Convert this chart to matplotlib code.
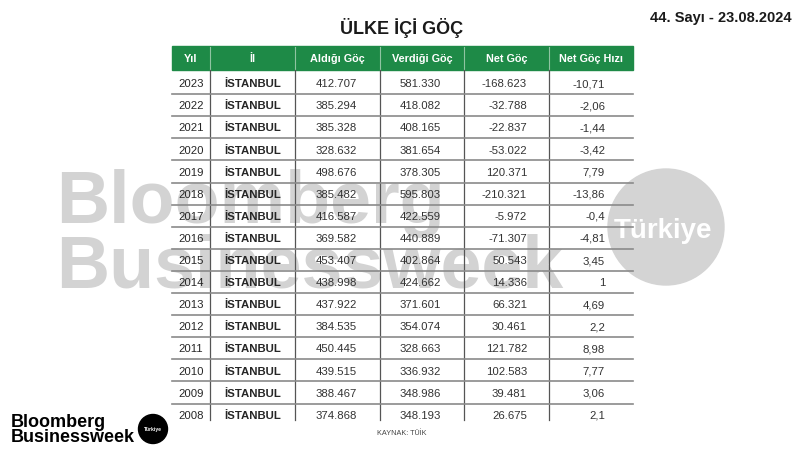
import matplotlib
matplotlib.use("Agg")
import matplotlib.pyplot as plt
from matplotlib.patches import Rectangle, Circle

plt.rcParams['font.family'] = ['Liberation Sans', 'DejaVu Sans']

title = "ÜLKE İÇİ GÖÇ"
issue = "44. Sayı - 23.08.2024"
source = "KAYNAK: TÜİK"
headers = ["Yıl", "İl", "Aldığı Göç", "Verdiği Göç", "Net Göç", "Net Göç Hızı"]
years = [2023, 2022, 2021, 2020, 2019, 2018, 2017, 2016, 2015, 2014, 2013, 2012, 2011, 2010, 2009, 2008]
city = ["İSTANBUL"] * 16
aldigi = ["412.707", "385.294", "385.328", "328.632", "498.676", "385.482", "416.587", "369.582",
          "453.407", "438.998", "437.922", "384.535", "450.445", "439.515", "388.467", "374.868"]
verdigi = ["581.330", "418.082", "408.165", "381.654", "378.305", "595.803", "422.559", "440.889",
           "402.864", "424.662", "371.601", "354.074", "328.663", "336.932", "348.986", "348.193"]
net = ["-168.623", "-32.788", "-22.837", "-53.022", "120.371", "-210.321", "-5.972", "-71.307",
       "50.543", "14.336", "66.321", "30.461", "121.782", "102.583", "39.481", "26.675"]
hiz = ["-10,71", "-2,06", "-1,44", "-3,42", "7,79", "-13,86", "-0,4", "-4,81",
       "3,45", "1", "4,69", "2,2", "8,98", "7,77", "3,06", "2,1"]

W, H = 800, 450
fig = plt.figure(figsize=(8, 4.5), dpi=100)
ax = fig.add_axes([0, 0, 1, 1])
ax.set_xlim(0, W)
ax.set_ylim(H, 0)
ax.axis('off')

# watermark
wm = '#d3d3d3'
ax.text(56, 223, "Bloomberg", fontsize=53, fontweight='bold', color=wm, ha='left', va='baseline', zorder=1)
ax.text(56, 288, "Businessweek", fontsize=53, fontweight='bold', color=wm, ha='left', va='baseline', zorder=1)
ax.add_patch(Circle((666, 227), 58, color='#d4d4d4', zorder=1))
ax.text(663, 238, "Türkiye", fontsize=20, fontweight='bold', color='white', ha='center', va='baseline', zorder=2)

# title & issue
ax.text(402, 34, title, fontsize=13, fontweight='bold', color='#1a1a1a', ha='center', va='baseline')
ax.text(792, 22, issue, fontsize=10.5, fontweight='bold', color='#1a1a1a', ha='right', va='baseline')

# table geometry
bounds = [172, 210, 295, 380, 464, 549, 633]
head_top, head_bot = 46, 70
row_top, row_h = 72, 22.1
green = '#1e8a47'
fs = 8.2
half_cap = 4.2

ax.add_patch(Rectangle((bounds[0], head_top), bounds[-1] - bounds[0], head_bot - head_top,
                       color=green, zorder=3))
for x in bounds[1:-1]:
    ax.plot([x, x], [head_top + 1, head_bot], color='#8fc4a2', lw=0.8, zorder=4)
for j, h in enumerate(headers):
    cx = (bounds[j] + bounds[j + 1]) / 2
    ax.text(cx, (head_top + head_bot) / 2 + 4, h, fontsize=7.8, fontweight='bold', color='white',
            ha='center', va='baseline', zorder=5)

n = len(years)
last_bottom = 420
for x in bounds[1:-1]:
    ax.plot([x, x], [head_bot, last_bottom], color='#555555', lw=0.9, zorder=4)
for i in range(n - 1):
    y = row_top + row_h * (i + 1)
    ax.plot([bounds[0], bounds[-1]], [y, y], color='#8a8a8a', lw=1.2, zorder=4)

right_cols = [(aldigi, 357), (verdigi, 441), (net, 527), (hiz, 605)]
for i in range(n):
    by = row_top + row_h * (i + 0.5) + half_cap
    ax.text((bounds[0] + bounds[1]) / 2, by, str(years[i]), fontsize=fs, color='#262626',
            ha='center', va='baseline', zorder=5)
    ax.text((bounds[1] + bounds[2]) / 2, by, city[i], fontsize=fs, fontweight='bold', color='#262626',
            ha='center', va='baseline', zorder=5)
    for vals, rx in right_cols:
        ax.text(rx, by, vals[i], fontsize=fs, color='#333333', ha='right', va='baseline', zorder=5)

ax.text(402, 435, source, fontsize=5.2, color='#444444', ha='center', va='baseline', zorder=5)

# logo
ax.text(11, 427, "Bloomberg", fontsize=13, fontweight='bold', color='black', ha='left', va='baseline')
ax.text(11, 442, "Businessweek", fontsize=13, fontweight='bold', color='black', ha='left', va='baseline')
ax.add_patch(Circle((153, 429), 14.5, color='black', zorder=3))
ax.text(153, 430.5, "Türkiye", fontsize=3.6, fontweight='bold', color='white', ha='center', va='baseline', zorder=4)

fig.savefig("out.png", dpi=100)
